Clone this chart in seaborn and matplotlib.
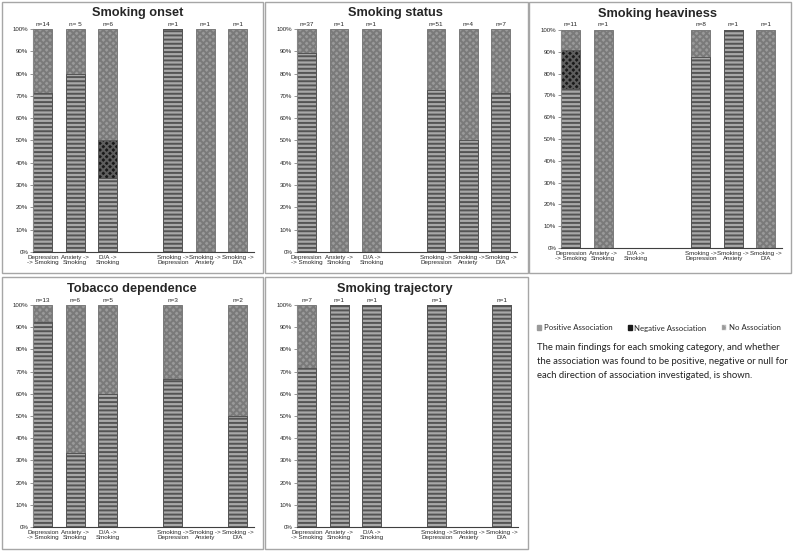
import numpy as np
import pandas as pd
import matplotlib
matplotlib.use("Agg")
import matplotlib.pyplot as plt
import seaborn as sns
from matplotlib.patches import Patch, Rectangle
from matplotlib.ticker import PercentFormatter

# Directions of association (the blank slot separates the two groups)
directions = ["Depression\n-> Smoking", "Anxiety ->\nSmoking", "D/A ->\nSmoking", " ",
              "Smoking ->\nDepression", "Smoking ->\nAnxiety", "Smoking ->\nD/A"]

# Number of studies per finding, None = direction not investigated
onset_pos = [10, 4, 2, None, 1, 0, 0]
onset_neg = [0, 0, 1, None, 0, 0, 0]
onset_null = [4, 1, 3, None, 0, 1, 1]

status_pos = [33, 0, 0, None, 37, 2, 5]
status_neg = [0, 0, 0, None, 0, 0, 0]
status_null = [4, 1, 1, None, 14, 2, 2]

heaviness_pos = [8, 0, None, None, 7, 1, 0]
heaviness_neg = [2, 0, None, None, 0, 0, 0]
heaviness_null = [1, 1, None, None, 1, 0, 1]

dependence_pos = [12, 2, 3, None, 2, None, 1]
dependence_neg = [0, 0, 0, None, 0, None, 0]
dependence_null = [1, 4, 2, None, 1, None, 1]

trajectory_pos = [5, 1, 1, None, 1, None, 1]
trajectory_neg = [0, 0, 0, None, 0, None, 0]
trajectory_null = [2, 0, 0, None, 0, None, 0]

legend_labels = ["Positive Association", "Negative Association", "No Association"]
caption = ("The main findings for each smoking category, and whether\n"
           "the association was found to be positive, negative or null for\n"
           "each direction of association investigated, is shown.")

# Styles
W, H = 793, 551
POS = dict(facecolor="#a8a8a8", edgecolor="#545454", hatch="----")
NEG = dict(facecolor="#1a1a1a", edgecolor="#5e5e5e", hatch="xxxxx")
NULL = dict(facecolor="#9a9a9a", edgecolor="#7a7a7a", hatch="xxxxx")

sns.set_theme(style="white")
plt.rcParams["font.family"] = ["Liberation Sans", "DejaVu Sans"]
plt.rcParams["hatch.linewidth"] = 1.4


def px_rect(x0, y0, x1, y1):
    return [x0 / W, 1 - y1 / H, (x1 - x0) / W, (y1 - y0) / H]


def draw_panel(fig, ax_px, box_px, title, title_xy, pos, neg, null):
    # panel frame
    fig.patches.append(Rectangle((box_px[0] / W, 1 - box_px[3] / H),
                                 (box_px[2] - box_px[0]) / W, (box_px[3] - box_px[1]) / H,
                                 transform=fig.transFigure, fill=False,
                                 edgecolor="#a6a6a6", linewidth=1.0))
    fig.text(title_xy[0] / W, 1 - title_xy[1] / H, title, ha="center", va="center",
             fontsize=9.2, fontweight="bold")

    ax = fig.add_axes(px_rect(*ax_px))
    df = pd.DataFrame({"direction": directions, "pos": pos, "neg": neg, "null": null}).dropna()
    total = df["pos"] + df["neg"] + df["null"]
    df["all_pct"] = 100.0
    df["posneg_pct"] = 100 * (df["pos"] + df["neg"]) / total
    df["pos_pct"] = 100 * df["pos"] / total

    # stack by overlaying cumulative heights, tallest first
    for col, style in [("all_pct", NULL), ("posneg_pct", NEG), ("pos_pct", POS)]:
        sns.barplot(data=df, x="direction", y=col, order=directions, width=0.58,
                    errorbar=None, saturation=1, linewidth=0.7, ax=ax, **style)

    for i, d in enumerate(directions):
        row = df[df["direction"] == d]
        if row.empty:
            continue
        n = int(row["pos"].iloc[0] + row["neg"].iloc[0] + row["null"].iloc[0])
        label = f"n={n}"
        if title == "Smoking onset" and i == 1:
            label = f"n= {n}"
        ax.annotate(label, xy=(i, 100), xytext=(0, 1.8), textcoords="offset points",
                    ha="center", va="bottom", fontsize=4.6)

    ax.set_xlim(-0.3, 6.5)
    ax.set_ylim(0, 100)
    ax.set_yticks(np.arange(0, 101, 10))
    ax.yaxis.set_major_formatter(PercentFormatter(decimals=0))
    ax.set_xlabel("")
    ax.set_ylabel("")
    ax.tick_params(axis="y", labelsize=4.4, length=2, width=0.6, color="#868686", pad=1.5, left=True)
    ax.tick_params(axis="x", labelsize=4.5, length=0, pad=2)
    for lab in ax.get_xticklabels():
        lab.set_linespacing(1.05)
    for s in ["top", "right"]:
        ax.spines[s].set_visible(False)
    ax.spines["left"].set_color("#868686")
    ax.spines["left"].set_linewidth(0.8)
    ax.spines["bottom"].set_color("#404040")
    ax.spines["bottom"].set_linewidth(0.8)
    return ax


fig = plt.figure(figsize=(W / 100, H / 100), dpi=100)

draw_panel(fig, (33, 29, 254, 252), (2, 2, 263, 273), "Smoking onset", (138, 13),
           onset_pos, onset_neg, onset_null)
draw_panel(fig, (297, 29, 517, 252), (265, 2, 528, 273), "Smoking status", (395, 13),
           status_pos, status_neg, status_null)
draw_panel(fig, (561, 30, 782, 248), (529, 2, 791, 273), "Smoking heaviness", (658, 14),
           heaviness_pos, heaviness_neg, heaviness_null)
draw_panel(fig, (33, 305, 254, 527), (2, 277, 263, 549), "Tobacco dependence", (132, 289),
           dependence_pos, dependence_neg, dependence_null)
draw_panel(fig, (297, 305, 518, 527), (265, 277, 528, 549), "Smoking trajectory", (395, 289),
           trajectory_pos, trajectory_neg, trajectory_null)

# legend and caption on the empty slot
handles = [Patch(facecolor="#9a9a9a", edgecolor="#9a9a9a"),
           Patch(facecolor="#1a1a1a", edgecolor="#1a1a1a"),
           Patch(facecolor="#9a9a9a", edgecolor="#bdbdbd", hatch="xxx", linewidth=0.3)]
fig.legend(handles, legend_labels, loc="center left", bbox_to_anchor=(530 / W, 1 - 328 / H),
           ncol=3, frameon=False, handlelength=0.55, handleheight=0.55,
           handletextpad=0.3, columnspacing=2.0, prop={"family": "Lato", "size": 5.6})
fig.text(537 / W, 1 - 343 / H, caption, ha="left", va="top", fontsize=6.8,
         family="Lato", linespacing=1.68, color="#222222")

fig.savefig("out.png", dpi=100)
